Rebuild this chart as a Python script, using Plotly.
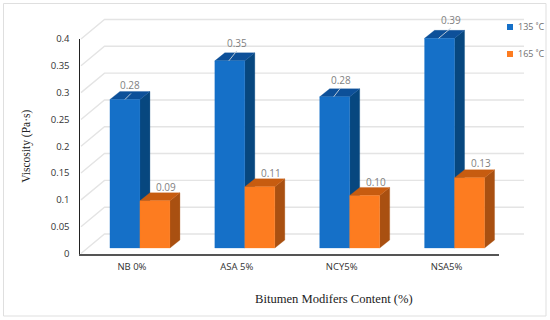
import plotly.graph_objects as go

categories = ["NB 0%", "ASA 5%", "NCY5%", "NSA5%"]
series_names = ["135 ˚C", "165 ˚C"]
values_135 = [0.277, 0.349, 0.282, 0.391]
values_165 = [0.088, 0.114, 0.098, 0.131]
labels_135 = ["0.28", "0.35", "0.28", "0.39"]
labels_165 = ["0.09", "0.11", "0.10", "0.13"]
y_ticks = [0, 0.05, 0.1, 0.15, 0.2, 0.25, 0.3, 0.35, 0.4]
y_tick_labels = ["0", "0.05", "0.1", "0.15", "0.2", "0.25", "0.3", "0.35", "0.4"]

W, H = 550, 320
L, R, T, B = 79.5, 499.0, 39.0, 253.5
PX = (R - L) / 4
PY = (B - T) / 0.4
dx = lambda p: p / PX
dy = lambda p: p / PY
px = lambda p: p / W
py = lambda p: 1 - p / H

TICK_FONT = "Open Sans"
SERIF = "Liberation Serif"

BASE = dy(5.5)
BAR_W = dx(30)
GROUP_START = dx(22)
DEPTH_X, DEPTH_Y = dx(10), dy(8)
WALL_X, WALL_Y = dx(25), dy(19.5)

fig = go.Figure()

# invisible trace so that the visible axes are drawn
fig.add_trace(go.Scatter(x=[0], y=[0], mode="markers", marker=dict(opacity=0), showlegend=False,
                         hoverinfo="skip"))

# walls: grid lines
gx, gy = [], []
for t in y_ticks:
    gx += [-0.5 + dx(1.5), -0.5 + WALL_X, 3.5 + dx(25), None]
    gy += [t, t + WALL_Y, t + WALL_Y, None]
fig.add_trace(go.Scatter(x=gx, y=gy, mode="lines", xaxis="x2", yaxis="y2", showlegend=False,
                         hoverinfo="skip", line=dict(color="#e4e4e4", width=1.4)))


def poly(xs, ys, color):
    fig.add_trace(go.Scatter(x=xs + xs[:1], y=ys + ys[:1], mode="lines", fill="toself",
                             xaxis="x2", yaxis="y2",
                             fillcolor=color, line=dict(color=color, width=0.3),
                             showlegend=False, hoverinfo="skip"))


def column(x0, v, front, side, top):
    x1 = x0 + BAR_W
    y0, y1 = BASE, BASE + v
    poly([x1, x1 + DEPTH_X, x1 + DEPTH_X, x1], [y0, y0 + DEPTH_Y, y1 + DEPTH_Y, y1], side)
    poly([x0, x1, x1 + DEPTH_X, x0 + DEPTH_X], [y1, y1, y1 + DEPTH_Y, y1 + DEPTH_Y], top)
    poly([x0, x1, x1, x0], [y0, y0, y1, y1], front)


for i in range(len(categories)):
    start = i - GROUP_START
    column(start, values_135[i], "#1570c8", "#07477f", "#0d5099")
    column(start + BAR_W, values_165[i], "#fd7c20", "#a95011", "#c75c10")

# leader lines and data labels
leader_start = [0, -1, -1, -1]
leader_end = [6, 7, 6, 11]
leader_rise = [6, 10, 9, 10]
label_dx = [5, 7, 6, 11.5]
label_rise_135 = [14, 18, 17, 18]
label_rise_165 = [14, 14, 13, 14.5]
lx, ly = [], []
for i, v in enumerate(values_135):
    c = i - GROUP_START + BAR_W / 2
    lx += [c + dx(leader_start[i]), c + dx(leader_end[i]), None]
    ly += [BASE + v, BASE + v + dy(leader_rise[i]), None]
    fig.add_annotation(xref="x2", yref="y2", x=c, y=BASE + v, text=labels_135[i], showarrow=False,
                       xshift=label_dx[i], yshift=label_rise_135[i], xanchor="center", yanchor="middle",
                       font=dict(family=TICK_FONT, size=10, color="#7f7f7f"))
    fig.add_annotation(xref="x2", yref="y2", x=c + BAR_W, y=BASE + values_165[i], text=labels_165[i],
                       showarrow=False, xshift=11, yshift=label_rise_165[i], xanchor="center", yanchor="middle",
                       font=dict(family=TICK_FONT, size=10, color="#7f7f7f"))
fig.add_trace(go.Scatter(x=lx, y=ly, mode="lines", xaxis="x2", yaxis="y2", showlegend=False,
                         hoverinfo="skip", line=dict(color="#b9c7d6", width=1)))

# legend
for name, color, ly_px in zip(series_names, ["#1570c8", "#fd7c20"], [27, 54]):
    fig.add_shape(type="rect", xref="paper", yref="paper",
                  x0=px(507), x1=px(513), y0=py(ly_px + 3), y1=py(ly_px - 3),
                  fillcolor=color, line=dict(width=0))
    fig.add_annotation(xref="paper", yref="paper", x=px(515.5), y=py(ly_px),
                       xanchor="left", yanchor="middle", text=name, showarrow=False,
                       font=dict(family=TICK_FONT, size=9, color="#707070"))

# x axis title
fig.add_annotation(xref="paper", yref="paper", x=px(334), y=py(299),
                   xanchor="center", yanchor="middle",
                   text="Bitumen Modifers Content (%)", showarrow=False,
                   font=dict(family=SERIF, size=12.6, color="#222222"))

# outer frame
fig.add_shape(type="rect", xref="paper", yref="paper",
              x0=px(3.5), x1=px(546), y0=py(316), y1=py(3.5),
              line=dict(color="#dfdfdf", width=1), fillcolor="rgba(0,0,0,0)")

fig.update_layout(
    width=W, height=H, showlegend=False,
    margin=dict(l=0, r=0, t=0, b=0, pad=0, autoexpand=False),
    paper_bgcolor="white", plot_bgcolor="rgba(0,0,0,0)",
    xaxis=dict(domain=[L / W, R / W], range=[-0.5, 3.5], tickmode="array", tickvals=list(range(4)),
               ticktext=categories,
               showgrid=False, zeroline=False, showline=True, linecolor="#555555", linewidth=1.6,
               ticks="outside", ticklen=3, tickcolor="rgba(0,0,0,0)",
               tickfont=dict(family=TICK_FONT, size=9.5, color="#333333")),
    yaxis=dict(domain=[1 - B / H, 1 - T / H], range=[0, 0.4], tickmode="array", tickvals=y_ticks,
               ticktext=y_tick_labels,
               showgrid=False, zeroline=False, showline=True, linecolor="#222222", linewidth=1.2,
               ticks="outside", ticklen=7, tickcolor="rgba(0,0,0,0)",
               tickfont=dict(family=TICK_FONT, size=9.5, color="#333333"),
               title=dict(text="Viscosity (Pa·s)", standoff=17,
                          font=dict(family=SERIF, size=11.5, color="#222222"))),
    xaxis2=dict(domain=[0, 1], range=[-0.5 - dx(L), 3.5 + dx(W - R)], visible=False, anchor="y2"),
    yaxis2=dict(domain=[0, 1], range=[-dy(H - B), 0.4 + dy(T)], visible=False, anchor="x2"),
)

fig.write_html("out.html", config=dict(displayModeBar=False),
               post_script="document.body.style.margin='0';")
